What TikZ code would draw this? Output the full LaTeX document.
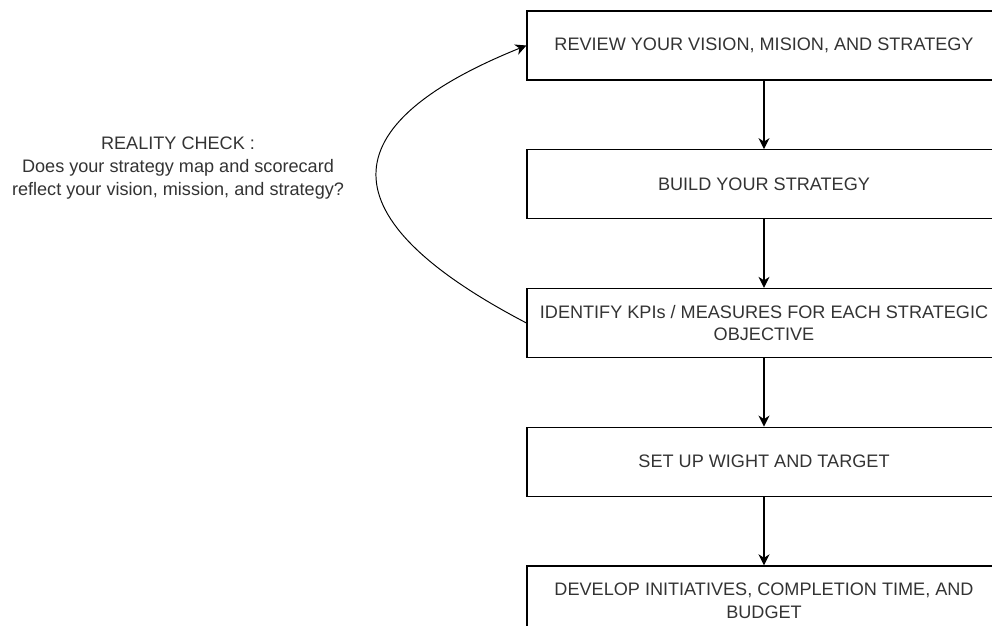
\documentclass[tikz,border=0pt]{standalone}
\usepackage{fontspec}
\setmainfont{Liberation Sans}
\usetikzlibrary{positioning,arrows.meta}
\definecolor{txtgray}{HTML}{333333}
\newcommand\flowfont{\fontsize{10.3}{13}\selectfont\hyphenpenalty=10000}
\begin{document}
\begin{tikzpicture}[>={Stealth[length=2.2mm,width=2.2mm,inset=0.7mm]},x=1cm,y=1cm,
	step box/.style={draw,line width=0.7pt,minimum width=9.48cm,minimum height=1.38cm,text width=9.46cm,align=flush center,
		font=\flowfont,text=txtgray,inner sep=0pt},
	node distance=1.37cm]
			\clip (0,0) rectangle (19.84,-12.5);
			\node[step box] (review) at (15.28,-0.91) {REVIEW YOUR VISION, MISION, AND STRATEGY};
			\node[step box,below=of review] (build) {BUILD YOUR STRATEGY};
			\node[step box,below=of build] (kpi) {IDENTIFY KPIs / MEASURES FOR EACH STRATEGIC OBJECTIVE};
			\node[step box,below=of kpi] (target) {SET UP WIGHT AND TARGET};
			\node[step box,below=of target] (initiative) {DEVELOP INITIATIVES, COMPLETION TIME, AND BUDGET};
			\draw[->,line width=0.7pt] (review) -- (build);
			\draw[->,line width=0.7pt] (build) -- (kpi);
			\draw[->,line width=0.7pt] (kpi) -- (target);
			\draw[->,line width=0.7pt] (target) -- (initiative);
			% reality check loop
			\node[align=center,font=\flowfont,text=txtgray] (check) at (3.56,-3.36)
				{REALITY CHECK :\\Does your strategy map and scorecard\\reflect your vision, mission, and strategy?};
			\draw[->,line width=0.55pt] (kpi.west) .. controls +(-4.04,2.11) and +(-3.94,-1.59) .. (review.west);
\end{tikzpicture}
\end{document}
